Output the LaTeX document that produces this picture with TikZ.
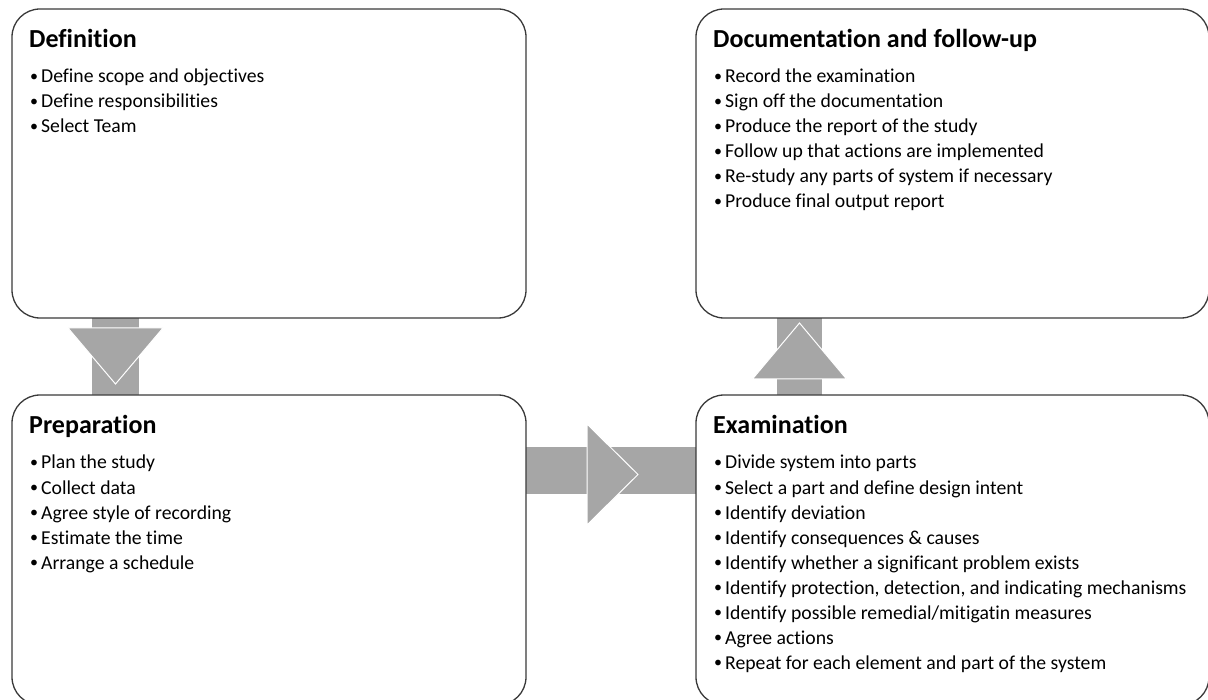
\documentclass[tikz,border=0pt]{standalone}
\usepackage{fontspec}
\setmainfont{Carlito}[Ligatures=CommonOff]
\usetikzlibrary{calc}
\definecolor{arrowgray}{HTML}{A6A6A6}
\definecolor{boxline}{HTML}{3A3A3A}
\tikzset{
  stagebox/.style={draw=boxline, line width=1.3pt, fill=white, rounded corners=28pt},
  stagetitle/.style={anchor=base west, inner sep=0pt, font=\fontsize{26}{30}\selectfont\bfseries},
  stageitem/.style={anchor=base west, inner sep=0pt, font=\fontsize{19.7}{25}\selectfont},
  shaft/.style={fill=arrowgray},
  head/.style={fill=arrowgray, draw=white, line width=1pt, line join=miter}
}
\newcommand{\bitem}[1]{\makebox[11pt][l]{\raisebox{1.3pt}{\fontsize{16}{16}\selectfont\textbullet}}#1}
\begin{document}
\begin{tikzpicture}[x=1pt,y=-1pt]
\useasboundingbox (0,0) rectangle (1208,700);
\clip (0,0) rectangle (1208,700);
% shafts
\fill[shaft] (92,310) rectangle (139,400);
\fill[shaft] (777,310) rectangle (822,400);
\fill[shaft] (520,447) rectangle (700,494);
% boxes
\draw[stagebox] (12,9) rectangle (526,318);
\draw[stagebox] (696,9) rectangle (1209,318);
\draw[stagebox] (12,395) rectangle (526,705);
\draw[stagebox] (696,395) rectangle (1209,705);
\coordinate (def) at (12,9);
\coordinate (doc) at (696,9);
\coordinate (prep) at (12,395);
\coordinate (exam) at (696,395);
% heads
\draw[head] (68,328) -- (163,328) -- (115.5,384) -- cycle;
\draw[head] (752.5,379) -- (846.5,379) -- (799.5,323) -- cycle;
\draw[head] (587,424) -- (587,525) -- (638,474.5) -- cycle;
% titles
\node[stagetitle] (tdef) at ($(def)+(17,39)$) {Definition};
\node[stagetitle] (tdoc) at ($(doc)+(17,39)$) {Documentation and follow-up};
\node[stagetitle] (tprep) at ($(prep)+(17,39)$) {Preparation};
\node[stagetitle] (texam) at ($(exam)+(17,39)$) {Examination};
% items
\foreach \t [count=\i] in {Define scope and objectives, Define responsibilities, Select Team}
  \node[stageitem] (idef\i) at ($(def)+(18,74+25*\i-25)$) {\bitem{\t}};
\foreach \t [count=\i] in {Record the examination, Sign off the documentation, Produce the report of the study, Follow up that actions are implemented, Re-study any parts of system if necessary, Produce final output report}
  \node[stageitem] (idoc\i) at ($(doc)+(18,74+25*\i-25)$) {\bitem{\t}};
\foreach \t [count=\i] in {Plan the study, Collect data, Agree style of recording, Estimate the time, Arrange a schedule}
  \node[stageitem] (iprep\i) at ($(prep)+(18,74+25*\i-25)$) {\bitem{\t}};
\foreach \t [count=\i] in {Divide system into parts, Select a part and define design intent, Identify deviation, Identify consequences \& causes, Identify whether a significant problem exists, {Identify protection, detection, and indicating mechanisms}, Identify possible remedial/mitigatin measures, Agree actions, Repeat for each element and part of the system}
  \node[stageitem] (iexam\i) at ($(exam)+(18,74+25*\i-25)$) {\bitem{\t}};
\end{tikzpicture}
\end{document}
